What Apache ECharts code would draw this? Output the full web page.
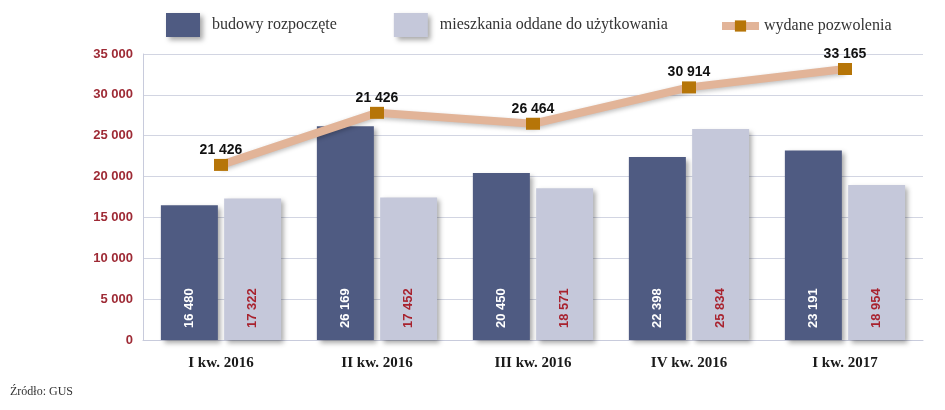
<!DOCTYPE html>
<html>
<head>
<meta charset="utf-8">
<script src="https://cdn.jsdelivr.net/npm/echarts@6/dist/echarts.min.js"></script>
<style>
  html, body { margin: 0; padding: 0; background: #fff; }
  #chart { width: 945px; height: 410px; }
</style>
</head>
<body>
<div id="chart"></div>
<script>
const categories = ['I kw. 2016', 'II kw. 2016', 'III kw. 2016', 'IV kw. 2016', 'I kw. 2017'];
const budowy = [16480, 26169, 20450, 22398, 23191];
const mieszkania = [17322, 17452, 18571, 25834, 18954];
const pozwolenia = [21426, 27800, 26464, 30914, 33165];
// labels as printed in the source (second one repeats the first)
const pozwoleniaLabels = ['21 426', '21 426', '26 464', '30 914', '33 165'];

function fmt(v) {
  return String(v).replace(/\B(?=(\d{3})+(?!\d))/g, ' ');
}

const chart = echarts.init(document.getElementById('chart'));

const barShadow = {
  shadowColor: 'rgba(0, 0, 0, 0.35)',
  shadowBlur: 5,
  shadowOffsetX: 3,
  shadowOffsetY: 3
};

const legendText = {
  fontFamily: 'Liberation Serif',
  fontSize: 16,
  color: '#333'
};

const option = {
  animation: false,
  legend: [
    {
      left: 166,
      top: 13,
      padding: 0,
      icon: 'rect',
      itemWidth: 34,
      itemHeight: 24,
      itemGap: 57,
      textStyle: Object.assign({padding: [3, 0, 0, 7]}, legendText),
      data: [
        {name: 'budowy rozpoczęte', itemStyle: barShadow},
        {name: 'mieszkania oddane do użytkowania', itemStyle: barShadow}
      ]
    },
    {
      left: 718,
      top: 18,
      padding: 0,
      itemWidth: 37,
      itemHeight: 14,
      lineStyle: {width: 8},
      textStyle: Object.assign({padding: [3, 0, 0, 0]}, legendText),
      data: ['wydane pozwolenia']
    }
  ],
  grid: {
    left: 143,
    right: 22,
    top: 54,
    bottom: 70
  },
  xAxis: {
    type: 'category',
    data: categories,
    axisLine: {lineStyle: {color: '#c8cbdc', width: 1}},
    axisTick: {inside: true, length: 6, lineStyle: {color: '#c8cbdc'}},
    axisLabel: {
      margin: 16,
      fontFamily: 'Liberation Serif',
      fontWeight: 'bold',
      fontSize: 15,
      color: '#1a1a1a'
    }
  },
  yAxis: {
    type: 'value',
    min: 0,
    max: 35000,
    interval: 5000,
    axisLine: {show: true, lineStyle: {color: '#c8cbdc'}},
    axisTick: {show: false},
    splitLine: {lineStyle: {color: '#d2d5e2'}},
    axisLabel: {
      margin: 10,
      fontFamily: 'Liberation Sans',
      fontWeight: 'bold',
      fontSize: 13,
      color: '#9e2a35',
      formatter: fmt
    }
  },
  series: [
    {
      name: 'budowy rozpoczęte',
      type: 'bar',
      data: budowy,
      barWidth: 57,
      barGap: '11%',
      itemStyle: Object.assign({color: '#4f5b82'}, barShadow),
      label: {
        show: true,
        position: 'insideBottom',
        rotate: 90,
        align: 'left',
        verticalAlign: 'middle',
        distance: 12,
        fontFamily: 'Liberation Sans',
        fontWeight: 'bold',
        fontSize: 13,
        color: '#ffffff',
        formatter: p => fmt(p.value)
      }
    },
    {
      name: 'mieszkania oddane do użytkowania',
      type: 'bar',
      data: mieszkania,
      barWidth: 57,
      itemStyle: Object.assign({color: '#c5c8da'}, barShadow),
      label: {
        show: true,
        position: 'insideBottom',
        rotate: 90,
        align: 'left',
        verticalAlign: 'middle',
        distance: 12,
        fontFamily: 'Liberation Sans',
        fontWeight: 'bold',
        fontSize: 13,
        color: '#a8222e',
        formatter: p => fmt(p.value)
      }
    },
    {
      name: 'wydane pozwolenia',
      type: 'line',
      data: pozwolenia,
      z: 5,
      symbol: 'rect',
      symbolSize: [14, 12],
      lineStyle: {
        color: '#e2b498',
        width: 8,
        shadowColor: 'rgba(0, 0, 0, 0.25)',
        shadowBlur: 4,
        shadowOffsetY: 2
      },
      itemStyle: {color: '#b67508'},
      label: {
        show: true,
        position: 'top',
        distance: 2,
        fontFamily: 'Liberation Sans',
        fontWeight: 'bold',
        fontSize: 14,
        color: '#111',
        formatter: p => pozwoleniaLabels[p.dataIndex]
      }
    }
  ],
  graphic: [
    {
      type: 'text',
      left: 10,
      top: 386,
      style: {
        text: 'Źródło: GUS',
        fontFamily: 'Liberation Serif',
        fontSize: 12,
        fill: '#333'
      }
    }
  ]
};

chart.setOption(option);
</script>
</body>
</html>
